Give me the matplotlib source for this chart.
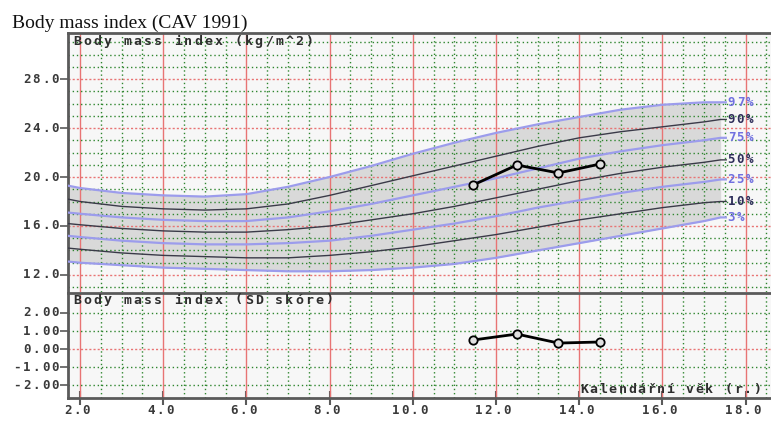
import numpy as np
import matplotlib
matplotlib.use("Agg")
import matplotlib.pyplot as plt
from matplotlib.transforms import offset_copy, blended_transform_factory

W, H = 771, 423

# BMI percentile table (kg/m^2) by age in years
ages = [1.7, 2, 3, 4, 5, 6, 7, 8, 9, 10, 11, 12, 13, 14, 15, 16, 17, 17.4]
p97 = [19.3, 19.1, 18.7, 18.5, 18.4, 18.6, 19.2, 20.0, 20.9, 21.9, 22.8, 23.6, 24.3, 24.9, 25.5, 25.9, 26.1, 26.1]
p90 = [18.2, 18.0, 17.6, 17.4, 17.3, 17.4, 17.8, 18.5, 19.3, 20.1, 20.9, 21.7, 22.5, 23.2, 23.7, 24.1, 24.5, 24.7]
p75 = [17.1, 17.0, 16.7, 16.5, 16.4, 16.4, 16.7, 17.2, 17.8, 18.5, 19.2, 19.9, 20.7, 21.5, 22.1, 22.6, 23.0, 23.2]
p50 = [16.2, 16.1, 15.8, 15.6, 15.5, 15.5, 15.7, 16.0, 16.5, 17.0, 17.6, 18.3, 19.0, 19.7, 20.3, 20.8, 21.2, 21.4]
p25 = [15.2, 15.1, 14.8, 14.6, 14.5, 14.5, 14.6, 14.8, 15.2, 15.7, 16.2, 16.8, 17.5, 18.1, 18.7, 19.2, 19.6, 19.8]
p10 = [14.2, 14.1, 13.8, 13.6, 13.5, 13.4, 13.4, 13.6, 13.9, 14.3, 14.8, 15.3, 15.9, 16.5, 17.0, 17.5, 17.9, 18.0]
p3 = [13.1, 13.0, 12.8, 12.6, 12.5, 12.4, 12.3, 12.3, 12.4, 12.6, 12.9, 13.4, 14.0, 14.6, 15.2, 15.8, 16.4, 16.7]
pct_names = ["97%", "90%", "75%", "50%", "25%", "10%", "3%"]

# measurements of the child
visit_age = [11.45, 12.5, 13.5, 14.5]
visit_bmi = [19.35, 20.98, 20.33, 21.06]
visit_sds = [0.50, 0.83, 0.33, 0.39]

bmi_ticks = [12, 16, 20, 24, 28]
sds_ticks = [-2, -1, 0, 1, 2]
age_ticks = [2, 4, 6, 8, 10, 12, 14, 16, 18]

GREEN = "#2f862f"
RED = "#e87474"
BLUE = "#9c9cec"
DARK = "#3a3a48"
FRAME = "#5a5a5a"
TXT = "#3a3a3a"

fig = plt.figure(figsize=(W / 100, H / 100), dpi=100)


def box(left, top, right, bottom):
    return [left / W, 1 - bottom / H, (right - left) / W, (bottom - top) / H]


ax1 = fig.add_axes(box(68, 33, 771, 292))
ax2 = fig.add_axes(box(68, 293, 771, 398))


def mono(ax, x, y, s, trans, pitch=9.0, ha="left", size=9, color=TXT):
    # old bitmap style: fixed pitch characters drawn one by one
    n = len(s)
    start = {"left": 0, "center": -n * pitch / 2, "right": -n * pitch}[ha]
    for i, ch in enumerate(s):
        t = offset_copy(trans, fig=fig, x=start + (i + 0.5) * pitch, y=0, units="dots")
        ax.text(x, y, ch, transform=t, ha="center", va="center", clip_on=False,
                family="DejaVu Sans Mono", weight="bold", size=size, color=color)


def shifted(trans, dx=0, dy=0):
    return offset_copy(trans, fig=fig, x=dx, y=dy, units="dots")


def grid(ax, ylo, yhi, red_rows):
    for x in np.arange(2, 18.6, 0.5):
        if x % 2 == 0:
            ax.axvline(x, color=RED, lw=1.0, zorder=2)
        else:
            ax.axvline(x, color=GREEN, lw=1.0, ls=(0, (1, 2)), zorder=2)
    for y in range(ylo, yhi + 1):
        if y in red_rows:
            ax.axhline(y, color=RED, lw=1.0, ls=(0, (1.5, 1.5)), zorder=2)
        else:
            ax.axhline(y, color=GREEN, lw=1.0, ls=(0, (1, 2)), zorder=2)


for ax in (ax1, ax2):
    ax.set_facecolor("#f7f7f7")
    ax.set_xlim(1.71, 18.61)
    ax.spines["right"].set_visible(False)
    for side in ("left", "top", "bottom"):
        ax.spines[side].set_color(FRAME)
        ax.spines[side].set_linewidth(2.0)
    ax.tick_params(axis="y", length=6, width=1.2, color=FRAME, labelleft=False)
    ax.tick_params(axis="x", length=0, labelbottom=False)

# BMI panel
ax1.set_ylim(10.61, 31.76)
grid(ax1, 11, 31, bmi_ticks)
ax1.set_yticks(bmi_ticks)
ax1.set_xticks([])
ax1.spines["bottom"].set_visible(False)
ax1.fill_between(ages, p3, p97, color="#d9d9d9", zorder=1, lw=0)

curves = [p97, p90, p75, p50, p25, p10, p3]
for k, (vals, name) in enumerate(zip(curves, pct_names)):
    blue = k % 2 == 0
    col = BLUE if blue else DARK
    ax1.plot(ages + [17.55], vals + [vals[-1]], color=col,
             lw=1.6 if blue else 1.0, zorder=3, solid_capstyle="butt")
    mono(ax1, 17.55, vals[-1], name, ax1.transData, pitch=9, size=9,
         color="#7070e0" if blue else "#2e2e5a")

ax1.plot(visit_age, visit_bmi, color="black", lw=2, marker="o", ms=6,
         mfc="#e0e0e0", mec="black", mew=1.3, zorder=5)

yt1 = blended_transform_factory(ax1.transAxes, ax1.transData)
for v in bmi_ticks:
    mono(ax1, 0, v, f"{v:.1f}", shifted(yt1, dx=-8), pitch=9.5, ha="right")
mono(ax1, 0, 1, "Body mass index (kg/m^2)", shifted(ax1.transAxes, 4, -8),
     pitch=10.1, size=9.5, color="#2e2e2e")

# SD score panel
ax2.set_ylim(-2.72, 3.11)
grid(ax2, -2, 2, [0])
ax2.set_yticks(sds_ticks)
ax2.set_xticks(age_ticks)
ax2.tick_params(axis="x", direction="inout", length=10, width=1.5, color=FRAME)
ax2.plot(visit_age, visit_sds, color="black", lw=2, marker="o", ms=6,
         mfc="#e0e0e0", mec="black", mew=1.3, zorder=5)

yt2 = blended_transform_factory(ax2.transAxes, ax2.transData)
for v in sds_ticks:
    mono(ax2, 0, v, f"{v:.2f}", shifted(yt2, dx=-8), pitch=9.5, ha="right")
xt2 = blended_transform_factory(ax2.transData, ax2.transAxes)
for v in age_ticks:
    mono(ax2, v, 0, f"{v:.1f}", shifted(xt2, -3, -12), pitch=9.3, ha="center")
mono(ax2, 0, 1, "Body mass index (SD skóre)", shifted(ax2.transAxes, 4, -7),
     pitch=10.1, size=9.5, color="#2e2e2e")
mono(ax2, 14.0, 0, "Kalendářní věk (r.)", shifted(xt2, 0, 9),
     pitch=9.6, size=9.5, color="#2e2e2e")

fig.text(12 / W, 1 - 28 / H, "Body mass index (CAV 1991)", family="Liberation Serif",
         size=14, color="#111111", va="baseline")

fig.savefig("out.png", dpi=100)
